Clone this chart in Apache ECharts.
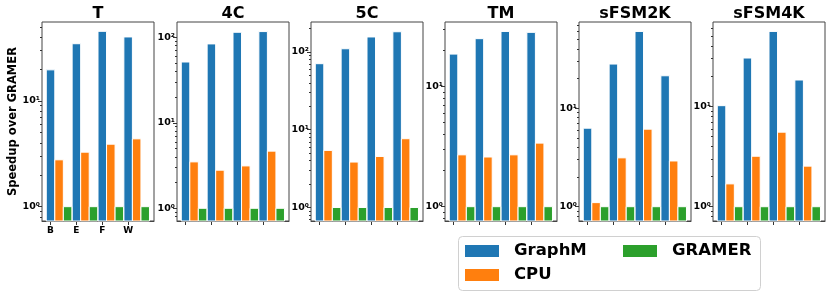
<!DOCTYPE html>
<html>
<head>
<meta charset="utf-8">
<script src="https://cdn.jsdelivr.net/npm/echarts@6/dist/echarts.min.js"></script>
<style>html,body{margin:0;padding:0;background:#fff}#c{width:831px;height:297px}</style>
</head>
<body>
<div id="c"></div>
<script>
// ---- data ----
const panels = ['T', '4C', '5C', 'TM', 'sFSM2K', 'sFSM4K'];
const xLabels = ['B', 'E', 'F', 'W'];
const seriesNames = ['GraphM', 'CPU', 'GRAMER'];
const graphM = [
  [19.6, 34.6, 45.3, 40.1],
  [51.4, 83.7, 114.5, 116.7],
  [70.7, 110, 156, 182],
  [18.6, 25.0, 28.7, 28.2],
  [6.26, 28.0, 60.0, 21.3],
  [10.2, 30.5, 56.2, 18.4]
];
const cpu = [
  [2.77, 3.27, 3.89, 4.37],
  [3.49, 2.79, 3.13, 4.66],
  [5.42, 3.84, 4.53, 7.66],
  [2.70, 2.59, 2.70, 3.38],
  [1.10, 3.13, 6.12, 2.91],
  [1.69, 3.19, 5.55, 2.54]
];
const gramer = [
  [1, 1, 1, 1],
  [1, 1, 1, 1],
  [1, 1, 1, 1],
  [1, 1, 1, 1],
  [1, 1, 1, 1],
  [1, 1, 1, 1]
];
const yMajorTicks = [1, 10, 100];
const yMajorLabels = ['10\u2070', '10\u00b9', '10\u00b2'];
const yMinorTicks = [0.7, 0.8, 0.9, 2, 3, 4, 5, 6, 7, 8, 9, 20, 30, 40, 50, 60, 70, 80, 90, 200, 300];

// ---- layout / style ----
const colors = ['#1f77b4', '#ff7f0e', '#2ca02c'];
const FONT = 'DejaVu Sans';
const gridLefts = [42, 177, 311, 445, 579, 713];
const gridW = 112, gridTop = 22, gridH = 199;
const yMin = [0.732, 0.71, 0.67, 0.76, 0.716, 0.72];
const yMax = [55.5, 151, 243, 34.4, 74.8, 69.8];
const xMin = -0.33, xMax = 4.0, barStep = 0.33;
const allData = [graphM, cpu, gramer];

const grids = [], xAxes = [], yAxes = [], series = [], titles = [];
panels.forEach((p, g) => {
  grids.push({left: gridLefts[g], top: gridTop, width: gridW, height: gridH,
    show: true, borderColor: '#444', borderWidth: 1, backgroundColor: 'transparent'});
  titles.push({text: p, left: gridLefts[g] + gridW / 2, top: 6, textAlign: 'center', padding: 0,
    textStyle: {fontFamily: FONT, fontWeight: 'bold', fontSize: 16, color: '#000'}});
  xAxes.push({type: 'value', gridIndex: g, min: xMin, max: xMax, position: 'bottom',
    splitLine: {show: false},
    axisLine: {show: true, onZero: false, lineStyle: {color: '#444', width: 1}},
    axisTick: {show: true, length: 4, customValues: [0, 1, 2, 3], lineStyle: {color: '#333'}},
    axisLabel: {show: g === 0, customValues: [0, 1, 2, 3], margin: 5,
      formatter: v => xLabels[Math.round(v)] || '',
      fontFamily: FONT, fontWeight: 'bold', fontSize: 9, color: '#000'}});
  const majors = yMajorTicks.filter(v => v >= yMin[g] && v <= yMax[g]);
  const minors = yMinorTicks.filter(v => v > yMin[g] && v < yMax[g]);
  yAxes.push({type: 'log', logBase: 10, gridIndex: g, min: yMin[g], max: yMax[g], position: 'left',
    name: g === 0 ? 'Speedup over GRAMER' : '', nameLocation: 'middle', nameRotate: 90, nameGap: 22,
    nameTextStyle: {fontFamily: FONT, fontWeight: 'bold', fontSize: 11.5, color: '#000'},
    splitLine: {show: false}, axisLine: {show: false, onZero: false},
    axisTick: {show: true, length: 4, customValues: majors, lineStyle: {color: '#333'}},
    axisLabel: {show: true, customValues: majors, margin: 2,
      formatter: v => yMajorLabels[Math.round(Math.log10(v))],
      fontFamily: FONT, fontWeight: 'bold', fontSize: 9.5, color: '#000'}});
  yAxes.push({type: 'log', logBase: 10, gridIndex: g, min: yMin[g], max: yMax[g], position: 'left', offset: 0,
    splitLine: {show: false}, axisLine: {show: false, onZero: false},
    axisTick: {show: true, length: 2, customValues: minors, lineStyle: {color: '#333'}},
    axisLabel: {show: false}});
  allData.forEach((arr, k) => {
    series.push({
      type: 'custom', name: seriesNames[k], xAxisIndex: g, yAxisIndex: 2 * g,
      itemStyle: {color: colors[k]},
      encode: {x: 0, y: 1},
      data: arr[g].map((v, i) => [i + k * barStep, v]),
      renderItem: (params, api) => {
        const x = api.value(0), y = api.value(1);
        const top = api.coord([x, y]);
        const l = api.coord([x - barStep / 2, y])[0];
        const r = api.coord([x + barStep / 2, y])[0];
        const cs = params.coordSys;
        const bottom = cs.y + cs.height;
        return {type: 'rect', shape: {x: l, y: top[1], width: r - l, height: bottom - top[1]},
          style: {fill: colors[k], stroke: '#fff', lineWidth: 1}};
      }
    });
  });
});

const legendText = {fontFamily: FONT, fontWeight: 'bold', fontSize: 16.5, color: '#000', padding: [0, 0, 0, 10], lineHeight: 18};
const option = {
  animation: false,
  backgroundColor: '#fff',
  title: titles,
  grid: grids,
  xAxis: xAxes,
  yAxis: yAxes,
  legend: [
    {data: ['GraphM', 'CPU'], orient: 'vertical', left: 465, top: 242, padding: 0, itemGap: 6,
      itemWidth: 34, itemHeight: 12, icon: 'rect', textStyle: legendText, selectedMode: false},
    {data: ['GRAMER'], orient: 'vertical', left: 623, top: 242, padding: 0, itemGap: 6,
      itemWidth: 34, itemHeight: 12, icon: 'rect', textStyle: legendText, selectedMode: false}
  ],
  graphic: [{type: 'rect', z: -1, shape: {x: 458.5, y: 236.5, width: 302, height: 54, r: 4},
    style: {fill: '#fff', stroke: '#d0d0d0', lineWidth: 1}}],
  series: series
};
const chart = echarts.init(document.getElementById('c'), null, {renderer: 'canvas'});
chart.setOption(option);
</script>
</body>
</html>
